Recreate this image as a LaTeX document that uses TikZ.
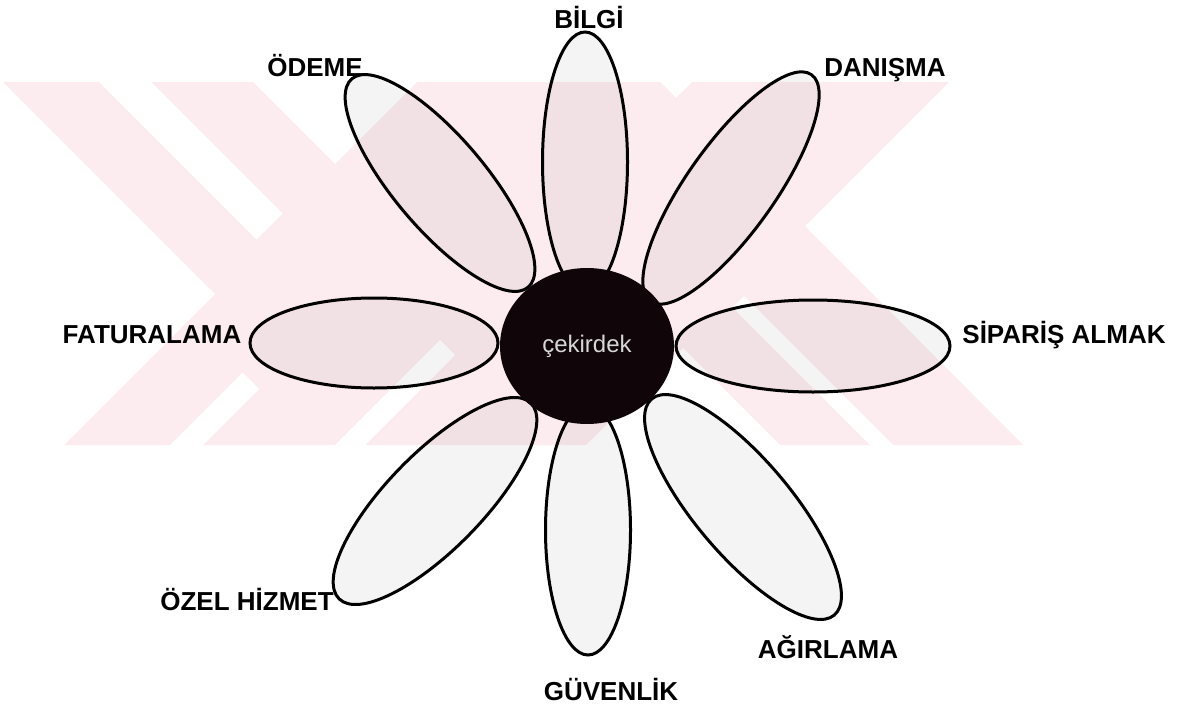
\documentclass[tikz,border=0pt]{standalone}
\usepackage{fontspec}
\setmainfont{Liberation Sans}
\usetikzlibrary{shapes.geometric}

\definecolor{wmpink}{RGB}{253,236,239}
\definecolor{corecol}{RGB}{16,6,10}
\definecolor{coretext}{RGB}{215,215,215}

\tikzset{
  petal/.style={ellipse, draw=black, line width=3pt, fill=black, fill opacity=0.045, text opacity=1, inner sep=0pt},
  lbl/.style={font=\fontsize{26}{30}\selectfont\bfseries, anchor=base, inner sep=0pt},
}

\begin{document}
\begin{tikzpicture}[x=1pt,y=-1pt]
\useasboundingbox (0,0) rectangle (1180,706);

% watermark
\fill[wmpink] (3,82) -- (253,82) -- (335,164) -- (417,82) -- (660,82) -- (676,98) -- (692,82) -- (949,82)
  -- (805,226) -- (1023,445) -- (780,445) -- (683,348) -- (586,445) -- (64,445) -- (215,294) -- cycle;
\fill[white] (99,82) -- (151,82) -- (282.5,213.5) -- (256.5,239.5) -- cycle;
\fill[white] (170,445) -- (203,445) -- (259,389) -- (242.5,372.5) -- cycle;
\fill[white] (335,445) -- (365,445) -- (455,355) -- (440,340) -- cycle;
\fill[white] (870,445) -- (893,445) -- (744,296) -- (732.5,307.5) -- cycle;

% petals
\node[petal, minimum width=85pt,  minimum height=260pt]             (bilgi)    at (585,162) {};
\node[petal, minimum width=278pt, minimum height=88pt, rotate=54.6]  (danisma)  at (731,188) {};
\node[petal, minimum width=274pt, minimum height=92pt]              (siparis)  at (813,346) {};
\node[petal, minimum width=283pt, minimum height=96pt, rotate=-49.8] (agirlama) at (743,507) {};
\node[petal, minimum width=85pt,  minimum height=250pt]             (guvenlik) at (588,530) {};
\node[petal, minimum width=274pt, minimum height=96pt, rotate=45.6]  (ozel)     at (435,501) {};
\node[petal, minimum width=248pt, minimum height=90pt]              (fatura)   at (374,343) {};
\node[petal, minimum width=273pt, minimum height=92pt, rotate=-49.8] (odeme)    at (440,183) {};

% core
\node[ellipse, fill=corecol, minimum width=174pt, minimum height=156pt, inner sep=0pt,
      text=coretext, font=\fontsize{24}{28}\selectfont] (cekirdek) at (587,346) {çekirdek};

% labels
\node[lbl] (lbilgi)    at (589,29)  {BİLGİ};
\node[lbl] (lodeme)    at (315,77)  {ÖDEME};
\node[lbl] (ldanisma)  at (885,77)  {DANIŞMA};
\node[lbl] (lfatura)   at (152,343) {FATURALAMA};
\node[lbl] (lsiparis)  at (1064,343) {SİPARİŞ ALMAK};
\node[lbl] (lozel)     at (247,610) {ÖZEL HİZMET};
\node[lbl] (lagirlama) at (828,658) {AĞIRLAMA};
\node[lbl] (lguvenlik) at (611,700) {GÜVENLİK};

\end{tikzpicture}
\end{document}
